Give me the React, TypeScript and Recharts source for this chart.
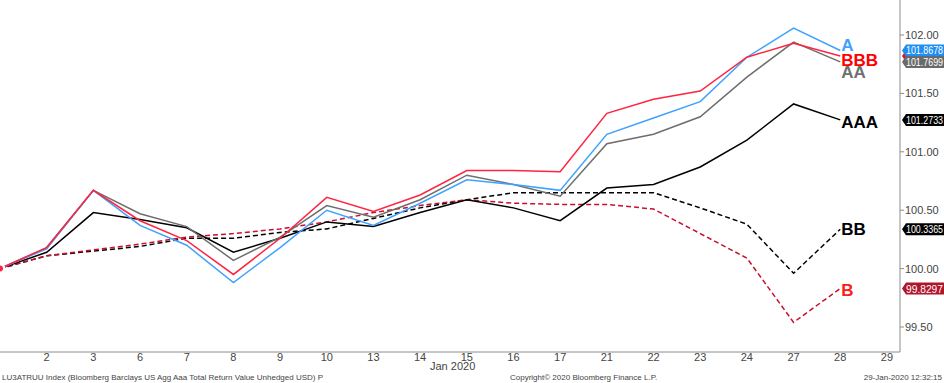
import { LabelList, Line, LineChart, ReferenceLine, XAxis, YAxis } from "recharts";

const days = ["", "2", "3", "6", "7", "8", "9", "10", "13", "14", "15", "16", "17", "21", "22", "23", "24", "27", "28", "29"];

const seriesA = [100.0, 100.17, 100.67, 100.37, 100.2, 99.88, 100.18, 100.5, 100.37, 100.56, 100.76, 100.72, 100.67, 101.15, 101.29, 101.43, 101.81, 102.06, 101.8678];
const seriesAA = [100.0, 100.18, 100.67, 100.47, 100.36, 100.07, 100.27, 100.54, 100.44, 100.59, 100.8, 100.72, 100.62, 101.07, 101.15, 101.3, 101.64, 101.94, 101.7699];
const seriesBBB = [100.0, 100.18, 100.67, 100.41, 100.24, 99.95, 100.26, 100.61, 100.49, 100.63, 100.84, 100.84, 100.83, 101.33, 101.45, 101.52, 101.81, 101.93, 101.82];
const seriesAAA = [100.0, 100.14, 100.48, 100.42, 100.35, 100.14, 100.26, 100.4, 100.36, 100.48, 100.59, 100.52, 100.41, 100.69, 100.72, 100.87, 101.1, 101.41, 101.2733];
const seriesBB = [100.0, 100.11, 100.15, 100.19, 100.26, 100.26, 100.31, 100.34, 100.43, 100.52, 100.59, 100.65, 100.65, 100.65, 100.65, 100.52, 100.38, 99.96, 100.3365];
const seriesB = [100.0, 100.11, 100.16, 100.21, 100.27, 100.3, 100.34, 100.4, 100.48, 100.54, 100.59, 100.56, 100.55, 100.55, 100.51, 100.3, 100.09, 99.54, 99.8297];

const yTicks = [99.5, 100, 100.5, 101, 101.5, 102];

const data = seriesA.map((_, i) => ({
  i,
  A: seriesA[i],
  AA: seriesAA[i],
  BBB: seriesBBB[i],
  AAA: seriesAAA[i],
  BB: seriesBB[i],
  B: seriesB[i],
}));

const lastIdx = seriesA.length - 1;
const font = "'Liberation Sans', Arial, sans-serif";

const series = [
  { key: "BB", color: "#000000", label: "#000000", tag: "#000000", dash: "5 3", dy: 0 },
  { key: "B", color: "#c8102e", label: "#ff1a1a", tag: "#b0152b", dash: "5 3", dy: 1 },
  { key: "AAA", color: "#000000", label: "#000000", tag: "#000000", dash: undefined, dy: 2 },
  { key: "AA", color: "#6e6e6e", label: "#707070", tag: "#6a6a6a", dash: undefined, dy: 10 },
  { key: "A", color: "#3fa2ff", label: "#3fa2ff", tag: "#1f8ef1", dash: undefined, dy: -5 },
  { key: "BBB", color: "#ff2442", label: "#ff0000", tag: "#e8102a", dash: undefined, dy: 4 },
];

// tags drawn in this order so BBB ends up hidden under A, like the original
const tagOrder = ["BBB", "A", "AA", "AAA", "BB", "B"];

function EndLabel(props: any) {
  const { x, y, index, text, color, dy } = props;
  if (index !== lastIdx) return null;
  return (
    <text x={x + 1} y={y + dy} dy={6} fill={color} fontFamily={font} fontWeight="bold" fontSize={17}>
      {text}
    </text>
  );
}

function Tag(props: any) {
  const { viewBox, color, value } = props;
  if (!viewBox) return null;
  const x0 = viewBox.x + viewBox.width + 2;
  const y = viewBox.y;
  const h = 12;
  const pts = `${x0},${y} ${x0 + 4},${y - h / 2} ${x0 + 44},${y - h / 2} ${x0 + 44},${y + h / 2} ${x0 + 4},${y + h / 2}`;
  return (
    <g>
      <polygon points={pts} fill={color} />
      <text
        x={x0 + 4}
        y={y + 4}
        fill="#ffffff"
        fontFamily={font}
        fontSize={10}
        textLength={37}
        lengthAdjust="spacingAndGlyphs"
      >
        {value.toFixed(4)}
      </text>
    </g>
  );
}

export default function App() {
  return (
    <div style={{ position: "relative", width: 944, height: 383, background: "#fff", fontFamily: font, overflow: "hidden" }}>
      <style>{"body{margin:0}"}</style>
      <LineChart width={944} height={383} data={data} margin={{ top: 0, right: 0, bottom: 19, left: 0 }}>
        <XAxis
          dataKey="i"
          type="number"
          domain={[0, 19.28]}
          ticks={days.map((_, i) => i)}
          tickFormatter={(v: number) => days[v]}
          interval={0}
          height={12}
          stroke="#8c8c8c"
          tickLine={false}
          tickSize={0}
          tickMargin={1}
          tick={{ fill: "#444", fontSize: 11, fontFamily: font }}
        />
        <YAxis
          orientation="right"
          domain={[99.286, 102.3]}
          ticks={yTicks}
          tickFormatter={(v: number) => v.toFixed(2)}
          width={44}
          stroke="#8c8c8c"
          tickSize={4}
          tick={{ fill: "#444", fontSize: 11, fontFamily: font }}
          tickMargin={1}
        />
        {series.map((s) => (
          <Line
            key={s.key}
            dataKey={s.key}
            stroke={s.color}
            strokeWidth={1.5}
            strokeDasharray={s.dash}
            dot={false}
            type="linear"
            isAnimationActive={false}
          >
            <LabelList dataKey={s.key} content={<EndLabel text={s.key} color={s.label} dy={s.dy} />} />
          </Line>
        ))}
        {tagOrder.map((k) => {
          const s = series.find((t) => t.key === k)!;
          const v = (data[lastIdx] as any)[k] as number;
          return (
            <ReferenceLine
              key={"tag" + k}
              y={v}
              stroke="none"
              label={<Tag color={s.tag} value={v} />}
            />
          );
        })}
      </LineChart>
      <div style={{ position: "absolute", left: 430, top: 360, fontSize: 11, color: "#444" }}>Jan 2020</div>
      <div style={{ position: "absolute", left: 2, top: 373, fontSize: 8, color: "#444" }}>
        LU3ATRUU Index (Bloomberg Barclays US Agg Aaa Total Return Value Unhedged USD) P
      </div>
      <div style={{ position: "absolute", left: 510, top: 373, fontSize: 8, color: "#444" }}>
        Copyright© 2020 Bloomberg Finance L.P.
      </div>
      <div style={{ position: "absolute", right: 2, top: 373, fontSize: 8, color: "#444" }}>29-Jan-2020 12:32:15</div>
    </div>
  );
}
